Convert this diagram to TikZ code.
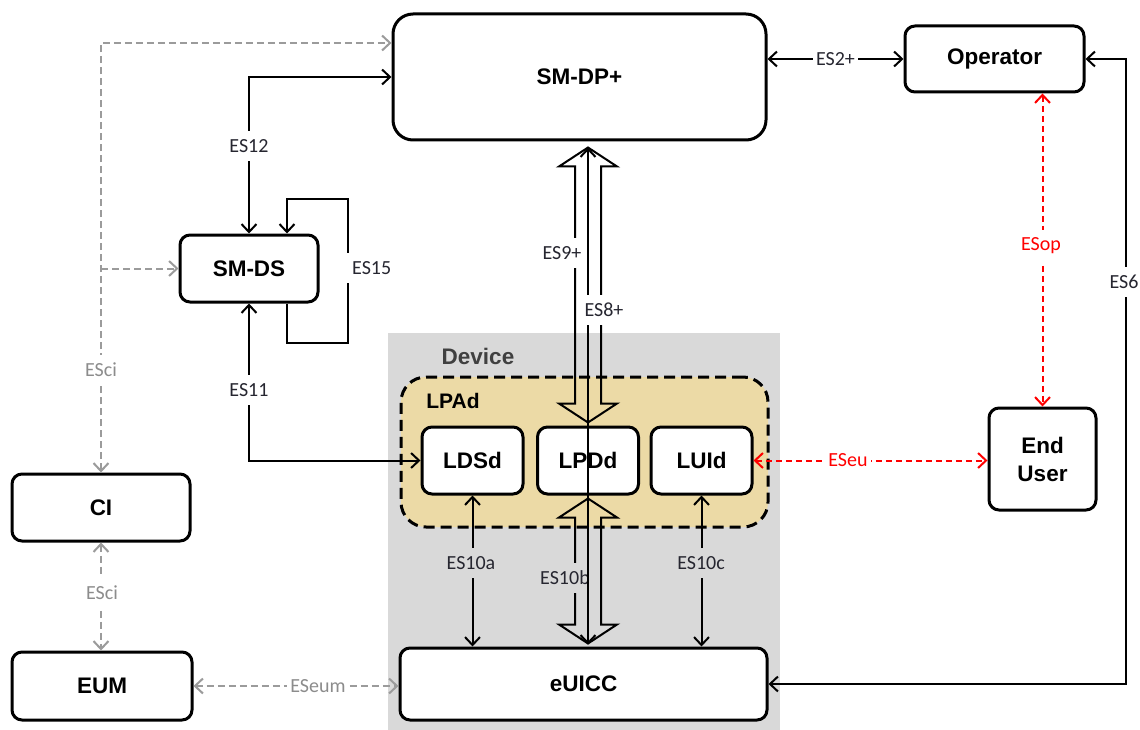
\documentclass[tikz,border=0pt]{standalone}
\usepackage{fontspec}
\setmainfont{Liberation Sans}
\newfontfamily\lblfont{Carlito}
\usetikzlibrary{arrows.meta,calc}
\definecolor{devgray}{RGB}{217,217,217}
\definecolor{lpadtan}{RGB}{236,218,166}
\definecolor{dgray}{RGB}{155,155,155}
\definecolor{lgray}{RGB}{140,140,140}
\definecolor{lblc}{RGB}{38,38,48}
\definecolor{devtxt}{RGB}{64,64,64}
\definecolor{red1}{RGB}{255,0,0}
\newcommand{\hollowarr}[2]{%
  \path (#1) coordinate (ha1) (#2) coordinate (ha2);
  \draw[line width=2pt,line join=miter]
    (ha1) -- ($(ha1)+(29,19)$) -- ($(ha1)+(13,19)$) -- ($(ha2)+(13,-19)$)
    -- ($(ha2)+(29,-19)$) -- (ha2) -- ($(ha2)+(-29,-19)$) -- ($(ha2)+(-13,-19)$)
    -- ($(ha1)+(-13,19)$) -- ($(ha1)+(-29,19)$) -- cycle;}
\begin{document}
\begin{tikzpicture}[x=1pt,y=-1pt,
  box/.style={draw=black,line width=3pt,rounded corners=10pt,fill=white,
    font=\fontsize{22.5}{26}\selectfont\bfseries,text=black,align=center,inner sep=0pt},
  lbl/.style={font=\lblfont\fontsize{20}{22}\selectfont,fill=white,text=lblc,inner xsep=3pt,inner ysep=8pt},
  conn/.style={line width=2pt,{Straight Barb[length=8pt,width=15pt]}-{Straight Barb[length=8pt,width=15pt]}},
  conn1/.style={line width=2pt,-{Straight Barb[length=8pt,width=15pt]}},
  gdash/.style={line width=2pt,draw=dgray,dash pattern=on 7pt off 4pt,{Straight Barb[length=8pt,width=15pt]}-{Straight Barb[length=8pt,width=15pt]}},
  gdash1/.style={line width=2pt,draw=dgray,dash pattern=on 7pt off 4pt,-{Straight Barb[length=8pt,width=15pt]}},
  rdash/.style={line width=2pt,draw=red1,dash pattern=on 6pt off 4pt,{Straight Barb[length=8pt,width=15pt]}-{Straight Barb[length=8pt,width=15pt]}},
]
\useasboundingbox (0,0) rectangle (1140,730);
\fill[white] (0,0) rectangle (1140,730);
% device region
\fill[devgray] (388,333) rectangle (780,732);
\node[font=\fontsize{22.5}{26}\selectfont\bfseries,text=devtxt] (devlbl) at (478,356) {Device};
\node[draw=black,line width=3pt,dash pattern=on 11pt off 6pt,rounded corners=25pt,fill=lpadtan,
  minimum width=367pt,minimum height=150pt] (lpad) at (584.5,452) {};
\node[font=\fontsize{21}{24}\selectfont\bfseries,text=black] (lpadlbl) at (453,401) {LPAd};

% boxes
\node[box,rounded corners=20pt,minimum width=373pt,minimum height=126pt] (smdp) at (579.5,77) {SM-DP+};
\node[box,minimum width=179pt,minimum height=66pt] (op) at (994.5,59) {Operator};
\node[box,minimum width=138pt,minimum height=67pt] (smds) at (249,268.5) {SM-DS};
\node[box,minimum width=101pt,minimum height=67pt] (ldsd) at (472.5,460.5) {LDSd};
\node[box,minimum width=101pt,minimum height=67pt] (lpdd) at (588,460.5) {LPDd};
\node[box,minimum width=101pt,minimum height=67pt] (luid) at (701.5,460.5) {LUId};
\node[box,minimum width=107pt,minimum height=102pt] (eu) at (1042.5,459) {End\\[2pt]User};
\node[box,minimum width=178pt,minimum height=67pt] (ci) at (101,507.5) {CI};
\node[box,minimum width=180pt,minimum height=68pt] (eum) at (102,686) {EUM};
\node[box,minimum width=367pt,minimum height=72pt] (euicc) at (583.5,684) {eUICC};

% ES2+
\draw[conn] (op.west -| smdp.east) -- (op.west) node[lbl,midway] (l2) {ES2+};
% ES12
\draw[conn] (smds.north) |- (smdp.west);
\node[lbl] (l12) at (249,146) {ES12};
% ES15 loop
\draw[conn1] ($(smds.south)+(38,0)$) -- ++(0,39) -- ++(61,0) -- ++(0,-143) -- ++(-61,0) -- ($(smds.north)+(38,0)$);
\node[lbl,anchor=west,inner xsep=7pt] (l15) at (345,268) {ES15};
% ES11
\draw[conn] (smds.south) |- (ldsd.west);
\node[lbl] (l11) at (249,390) {ES11};
% ESci top dashed
\coordinate (dptop) at ($(smdp.west)+(0,-34)$);
\draw[gdash] (ci.north) |- (dptop);
\draw[gdash1] (ci.north |- smds.west) -- (smds.west);
\node[lbl,text=lgray] (lci1) at (101,370) {ESci};
% ESci CI-EUM
\draw[gdash] (ci.south) -- (ci.south |- eum.north);
\node[lbl,text=lgray] (lci2) at (102,593) {ESci};
% ESeum
\draw[gdash] (eum.east) -- (eum.east -| euicc.west);
\node[lbl,text=lgray] (leum) at (318,686) {ESeum};
% ES6
\draw[conn] (op.east) -- ++(40,0) |- (euicc.east);
\node[lbl] (l6) at (1124,282) {ES6};
% ESop
\draw[rdash] (eu.north |- op.south) -- (eu.north);
\node[lbl,text=red1] (lop) at (1041,246) {ESop};
% ESeu
\draw[rdash] (luid.east) -- (luid.east -| eu.west);
\node[lbl,text=red1] (leu) at (848,460) {ESeu};
% ES10a / ES10c
\draw[conn] (ldsd.south) -- (ldsd.south |- euicc.north);
\node[lbl,fill=devgray] (l10a) at (471,563) {ES10a};
\draw[conn] (luid.south) -- (luid.south |- euicc.north);
\node[lbl,fill=devgray] (l10c) at (701,563) {ES10c};
% hollow arrows ES9+ and ES10b
\hollowarr{$(lpdd.north |- smdp.south)+(0,6)$}{$(lpdd.north)+(0,-3)$}
\hollowarr{$(lpdd.south)+(0,3)$}{$(lpdd.south |- euicc.north)+(0,-3)$}
\node[lbl] (l9) at (562,253) {ES9+};
\node[lbl,fill=devgray] (l10b) at (565,578) {ES10b};
% ES8+ thin line
\draw[conn] ($(lpdd.north |- smdp.south)+(0,6)$) -- ($(lpdd.south |- euicc.north)+(0,-2)$);
\node[lbl] (l8) at (604,310) {ES8+};
\end{tikzpicture}
\end{document}
